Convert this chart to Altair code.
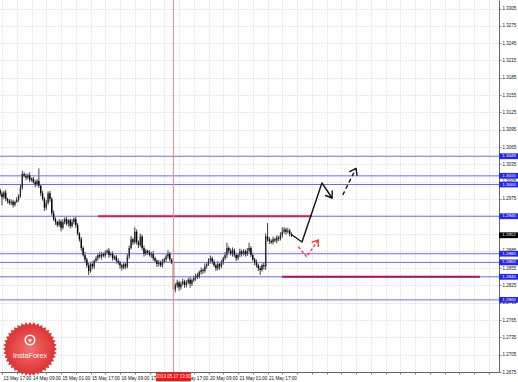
import json
import math
import altair as alt
import pandas as pd

# ---------------- data ----------------
FIRST_BAR = -1
FIRST_OPEN = 1.2990
closes = [
    1.2984, 1.2978, 1.2986, 1.2975, 1.2972, 1.2968, 1.2970, 1.2965, 1.2970, 1.2974,
    1.2980, 1.2995, 1.3018, 1.3015, 1.3012, 1.3016, 1.3008, 1.3010, 1.3004, 1.3000,
    1.3006, 1.2998, 1.2985, 1.2975, 1.2960, 1.2968, 1.2985, 1.2975, 1.2950, 1.2940,
    1.2935, 1.2930, 1.2936, 1.2925, 1.2935, 1.2940, 1.2932, 1.2938, 1.2928, 1.2935,
    1.2940, 1.2930, 1.2915, 1.2905, 1.2890, 1.2878, 1.2870, 1.2860, 1.2850, 1.2862,
    1.2858, 1.2868, 1.2872, 1.2878, 1.2875, 1.2880, 1.2877, 1.2882, 1.2885, 1.2878,
    1.2880, 1.2872, 1.2875, 1.2868, 1.2865, 1.2860, 1.2856, 1.2862, 1.2858, 1.2875,
    1.2890, 1.2905, 1.2900, 1.2918, 1.2900, 1.2895, 1.2910, 1.2890, 1.2880, 1.2885,
    1.2882, 1.2878, 1.2880, 1.2872, 1.2868, 1.2862, 1.2865, 1.2860, 1.2866, 1.2870,
    1.2875, 1.2880, 1.2870, 1.2865, 1.2818, 1.2825, 1.2830, 1.2822, 1.2828, 1.2832,
    1.2826, 1.2830, 1.2835, 1.2828, 1.2834, 1.2838, 1.2842, 1.2840, 1.2848, 1.2852,
    1.2850, 1.2858, 1.2862, 1.2868, 1.2872, 1.2866, 1.2860, 1.2855, 1.2862, 1.2858,
    1.2865, 1.2872, 1.2878, 1.2890, 1.2885, 1.2880, 1.2886, 1.2878, 1.2872, 1.2878,
    1.2884, 1.2880, 1.2884, 1.2879, 1.2885, 1.2890, 1.2878, 1.2870, 1.2865, 1.2860,
    1.2855, 1.2852, 1.2860, 1.2858, 1.2910, 1.2905, 1.2902, 1.2900, 1.2905, 1.2903,
    1.2908, 1.2906, 1.2912, 1.2918, 1.2922, 1.2918, 1.2920, 1.2914, 1.2912,
]
upper_wick_pips = [
    3, 4, 3, 5, 2, 3, 4, 3, 2, 4,
    3, 5, 6, 3, 4, 3, 5, 2, 3, 4,
    3, 22, 3, 4, 3, 5, 3, 4, 3, 5,
    3, 2, 4, 3, 5, 3, 4, 2, 3, 5,
    3, 4, 3, 2, 4, 3, 5, 3, 4, 3,
    5, 2, 4, 3, 5, 3, 2, 4, 3, 5,
    3, 4, 2, 3, 4, 3, 2, 4, 3, 5,
    4, 6, 3, 8, 4, 3, 5, 3, 4, 3,
    2, 4, 3, 5, 3, 2, 4, 3, 5, 3,
    4, 6, 3, 2, 7, 4, 5, 3, 4, 5,
    3, 4, 3, 5, 3, 4, 3, 5, 3, 4,
    3, 5, 3, 4, 5, 3, 4, 3, 5, 3,
    4, 3, 5, 9, 3, 4, 5, 3, 4, 3,
    5, 3, 4, 3, 5, 9, 3, 4, 3, 5,
    3, 4, 3, 5, 5, 23, 4, 3, 5, 3,
    4, 3, 5, 8, 4, 3, 5, 3, 3,
]
lower_wick_pips = [
    4, 14, 3, 4, 5, 3, 4, 5, 3, 2,
    4, 3, 4, 3, 5, 3, 4, 3, 2, 5,
    3, 4, 5, 3, 6, 4, 3, 5, 4, 3,
    5, 4, 3, 6, 3, 4, 3, 5, 4, 3,
    4, 5, 3, 4, 5, 3, 6, 4, 7, 3,
    5, 4, 3, 4, 3, 5, 3, 4, 3, 5,
    3, 4, 3, 5, 4, 6, 5, 3, 4, 3,
    4, 3, 5, 3, 4, 5, 3, 4, 5, 3,
    4, 3, 5, 4, 3, 5, 4, 3, 4, 3,
    5, 3, 4, 3, 18, 5, 4, 6, 4, 3,
    5, 4, 3, 7, 4, 3, 5, 4, 3, 4,
    5, 3, 4, 3, 5, 4, 3, 5, 4, 6,
    3, 4, 3, 5, 4, 3, 5, 4, 5, 3,
    4, 5, 3, 4, 3, 5, 4, 3, 5, 4,
    5, 9, 3, 5, 6, 4, 5, 3, 4, 3,
    5, 4, 3, 4, 3, 5, 3, 4, 3,
]

price_ticks = [1.2675, 1.2705, 1.2735, 1.2765, 1.2795, 1.2825, 1.2855, 1.2885,
               1.2915, 1.2945, 1.2975, 1.3005, 1.3035, 1.3065, 1.3095, 1.3125,
               1.3155, 1.3185, 1.3215, 1.3245, 1.3275, 1.3305]
hidden_price_ticks = [1.2915, 1.2945]   # covered by the level boxes in the picture
level_prices = [1.3049, 1.3015, 1.3000, 1.2945, 1.2880, 1.2865, 1.2840, 1.2800]
bid_price = 1.2912

time_tick_bars = [0, 16, 32, 48, 64, 80, 96, 112, 128, 144]
time_tick_labels = ["13 May 17:00", "14 May 09:00", "15 May 01:00", "15 May 17:00",
                    "16 May 09:00", "17 May 01:00", "17 May 17:00", "20 May 09:00",
                    "21 May 01:00", "21 May 17:00"]
event_bar = 93
event_label = "2013.05.17 13:00"

red_seg_start = [52, 151.8]
red_seg_end = [168, 259.2]
red_seg_price = [1.2945, 1.2840]
red_seg_name = ["upper", "lower"]

# forecast arrows (bar, price)
solid_bar = [157.3, 162.7, 173.5, 179.0]
solid_price = [1.29125, 1.29003, 1.30026, 1.29766]
solid_head_bar = [175.5, 179.0, 179.1]
solid_head_price = [1.29809, 1.29766, 1.29887]
dash_bar = [184.8, 192.0]
dash_price = [1.29818, 1.30281]
dash_head_bar = [188.6, 192.0, 192.5]
dash_head_price = [1.30224, 1.30281, 1.30161]
red_bar = [160.7, 165.2, 171.5]
red_price = [1.28922, 1.28748, 1.29038]
red_head_bar = [167.95, 171.5, 171.5]
red_head_price = [1.28996, 1.29038, 1.28917]

# ---------------- build tables ----------------
rows = []
prev = FIRST_OPEN
for k, c in enumerate(closes):
    o = prev
    rows.append(dict(bar=FIRST_BAR + k, open=o, close=c,
                     high=max(o, c) + upper_wick_pips[k] / 10000.0,
                     low=min(o, c) - lower_wick_pips[k] / 10000.0,
                     bull=c >= o))
    prev = c
candles = pd.DataFrame(rows)

levels = pd.DataFrame({"price": level_prices,
                       "label": [f"{p:.4f}" for p in level_prices]})
bid = pd.DataFrame({"price": [bid_price], "label": [f"{bid_price:.4f}"]})
red_segs = pd.DataFrame({"bar": red_seg_start, "x1": red_seg_end,
                         "price": red_seg_price, "name": red_seg_name})
event = pd.DataFrame({"bar": [event_bar], "label": [event_label]})


def path_df(bars, prices, name):
    return pd.DataFrame({"bar": bars, "price": prices, "seg": name,
                         "ord": list(range(len(bars)))})


solid_df = pd.concat([path_df(solid_bar, solid_price, "a"),
                      path_df(solid_head_bar, solid_head_price, "b"),
                      path_df(dash_head_bar, dash_head_price, "c")])
dash_df = path_df(dash_bar, dash_price, "d")
red_dash_df = path_df(red_bar, red_price, "e")
red_head_df = path_df(red_head_bar, red_head_price, "f")

# ---------------- styling ----------------
FONT = "Liberation Sans"
XDOM = [-1.085, 269.53]
YDOM = [1.2675, 1.33198]
xs = alt.Scale(domain=XDOM, nice=False, zero=False)
ys = alt.Scale(domain=YDOM, nice=False, zero=False)
grid_bars = list(range(0, 265, 8))

x_label_expr = ("indexof(%s, datum.value) >= 0 ? %s[indexof(%s, datum.value)] : ''"
                % (json.dumps(time_tick_bars), json.dumps(time_tick_labels),
                   json.dumps(time_tick_bars)))
y_label_expr = ("indexof(%s, datum.value) >= 0 ? '' : format(datum.value, '.4f')"
                % json.dumps(hidden_price_ticks))

x_axis = alt.Axis(values=grid_bars, labelExpr=x_label_expr, labelAlign="left",
                  labelBaseline="top", labelFontSize=4.6, labelFont=FONT,
                  labelColor="#111", labelPadding=1, labelOffset=1, tickSize=2,
                  tickColor="#777", domainColor="#666", grid=True,
                  gridColor="#c4c4c4", gridDash=[1, 2], gridWidth=0.8,
                  title=None, labelFlush=False, labelOverlap=False)
y_axis = alt.Axis(orient="right", values=price_ticks, labelExpr=y_label_expr,
                  labelFontSize=4.5, labelFont=FONT, labelColor="#111",
                  labelPadding=1, tickSize=2, tickColor="#888",
                  domainColor="#666", grid=True, gridColor="#c4c4c4",
                  gridDash=[1, 2], gridWidth=0.8, title=None,
                  labelFlush=False, labelOverlap=False)


def X(field):
    return alt.X(field, scale=xs, axis=x_axis, title=None)


def Y(field):
    return alt.Y(field, scale=ys, axis=y_axis, title=None)


base = alt.Chart(candles)
wicks = base.mark_rule(color="#111", strokeWidth=0.8).encode(
    x=X("bar:Q"), y=Y("low:Q"), y2="high:Q")
bodies = base.mark_rule(strokeWidth=1.4).encode(
    x=X("bar:Q"), y=Y("open:Q"), y2="close:Q",
    color=alt.condition("datum.bull", alt.value("#2a2a2a"), alt.value("#000000")),
)

level_lines = alt.Chart(levels).mark_rule(color="#6b6bf5", strokeWidth=1).encode(
    y=Y("price:Q"))

red_lines = alt.Chart(red_segs).mark_rule(strokeWidth=2).encode(
    x=X("bar:Q"), x2="x1:Q", y=Y("price:Q"),
    color=alt.Color("name:N", scale=alt.Scale(domain=["upper", "lower"],
                                              range=["#e3174b", "#b5124a"]),
                    legend=None))

event_line = alt.Chart(event).mark_rule(strokeWidth=1, opacity=1).encode(
    x=X("bar:Q"), y=alt.value(0), y2=alt.value(372),
    color=alt.value("#ff8a8a"))

solid_lines = alt.Chart(solid_df).mark_line(color="#111", strokeWidth=1.4,
                                            strokeCap="round", strokeJoin="round").encode(
    x=X("bar:Q"), y=Y("price:Q"), detail="seg:N", order="ord:Q")
dash_line = alt.Chart(dash_df).mark_line(color="#111", strokeWidth=1.4,
                                         strokeDash=[4, 3]).encode(
    x=X("bar:Q"), y=Y("price:Q"), order="ord:Q")
red_dash = alt.Chart(red_dash_df).mark_line(color="#ff3030", strokeWidth=1.3,
                                            strokeDash=[3, 2]).encode(
    x=X("bar:Q"), y=Y("price:Q"), order="ord:Q")
red_head = alt.Chart(red_head_df).mark_line(color="#ff3030", strokeWidth=1.3,
                                            strokeJoin="miter").encode(
    x=X("bar:Q"), y=Y("price:Q"), order="ord:Q")

BOX = "M-1,-0.29L1,-0.29L1,0.29L-1,0.29Z"
level_box = alt.Chart(levels).mark_point(shape=BOX, size=400, filled=True,
                                         color="#2525f5", opacity=1).encode(
    x=alt.value(509), y=Y("price:Q"))
level_txt = alt.Chart(levels).mark_text(font=FONT, fontSize=4.4, color="white",
                                        align="center", baseline="middle").encode(
    x=alt.value(509), y=Y("price:Q"), text="label:N")
bid_box = alt.Chart(bid).mark_point(shape=BOX, size=400, filled=True,
                                    color="#000", opacity=1).encode(
    x=alt.value(509), y=Y("price:Q"))
bid_txt = alt.Chart(bid).mark_text(font=FONT, fontSize=4.4, color="white",
                                   align="center", baseline="middle").encode(
    x=alt.value(509), y=Y("price:Q"), text="label:N")

TBOX = "M-1,-0.24L1,-0.24L1,0.24L-1,0.24Z"
event_box = alt.Chart(event).mark_point(shape=TBOX, size=1225, filled=True,
                                        color="#ff1010", opacity=1).encode(
    x=X("bar:Q"), y=alt.value(377))
event_txt = alt.Chart(event).mark_text(font=FONT, fontSize=4.5, color="white",
                                       align="center", baseline="middle").encode(
    x=X("bar:Q"), y=alt.value(377.3), text="label:N")

# InstaForex badge (serrated circle shape)
teeth = 40
pts = []
for t in range(teeth * 2):
    r = 1.0 if t % 2 == 0 else 0.9
    a = math.pi * t / teeth
    pts.append(f"{r * math.cos(a):.4f},{r * math.sin(a):.4f}")
GEAR = "M" + "L".join(pts) + "Z"
logo_df = pd.DataFrame({"name": ["InstaForex"]})
logo = alt.Chart(logo_df).mark_point(
    shape=GEAR, size=2916, filled=True, opacity=1,
    fill=alt.Gradient(gradient="radial",
                      stops=[alt.GradientStop(color="#f27070", offset=0),
                             alt.GradientStop(color="#e84848", offset=0.6),
                             alt.GradientStop(color="#d83030", offset=1)]),
).encode(x=alt.value(30), y=alt.value(349))
logo_ring = alt.Chart(logo_df).mark_point(shape="circle", size=90, filled=False,
                                          color="white", strokeWidth=1.6,
                                          opacity=1).encode(
    x=alt.value(30), y=alt.value(340))
logo_dot = alt.Chart(logo_df).mark_point(shape="triangle-down", size=18, filled=True,
                                         color="white", opacity=1).encode(
    x=alt.value(30), y=alt.value(341))
logo_txt = alt.Chart(logo_df).mark_text(font=FONT, fontSize=7.2, color="white",
                                        align="center", baseline="middle").encode(
    x=alt.value(30), y=alt.value(356), text="name:N")

chart = alt.layer(
    wicks, level_lines, bodies, red_lines, event_line,
    solid_lines, dash_line, red_dash, red_head,
    level_box, level_txt, bid_box, bid_txt, event_box, event_txt,
    logo, logo_ring, logo_dot, logo_txt,
).properties(
    width=499, height=372, autosize="none",
    padding={"left": 0, "top": 0, "right": 19, "bottom": 10},
    background="white",
).configure_view(stroke=None)

chart.save("out.html", embed_options={"renderer": "svg", "actions": False})
